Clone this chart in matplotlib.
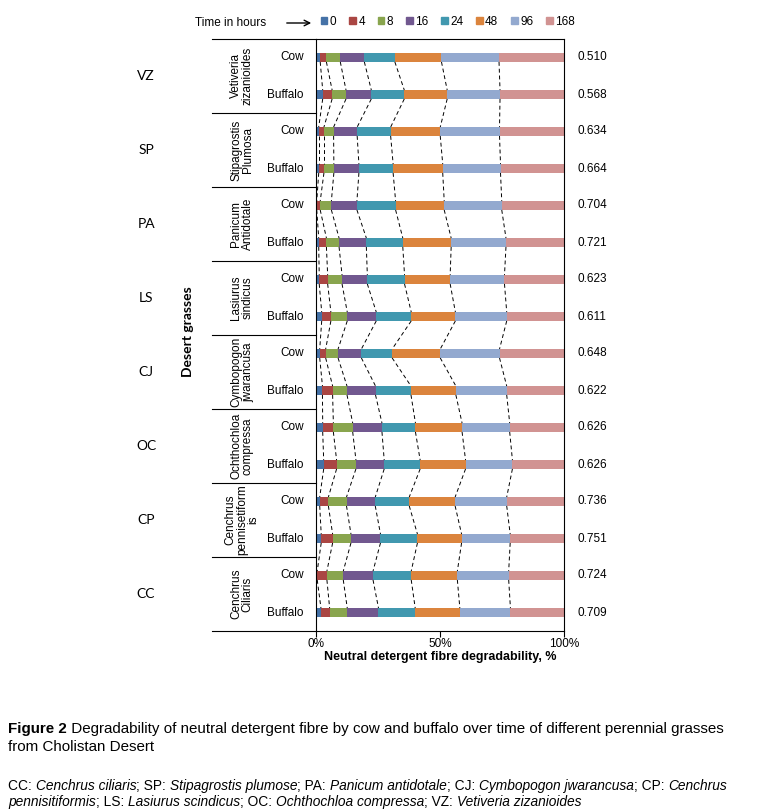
import numpy as np
import matplotlib
matplotlib.use("Agg")
import matplotlib.pyplot as plt
from matplotlib import font_manager
from matplotlib.patches import Patch

installed = {f.name for f in font_manager.fontManager.ttflist}
plt.rcParams['font.family'] = ['Liberation Sans', 'DejaVu Sans']
label_font = 'Lato' if 'Lato' in installed else 'Liberation Sans'
if 'Liberation Sans Narrow' in installed:
    cap_font, cap_size, note_size = 'Liberation Sans Narrow', 12.7, 11.4
else:
    cap_font, cap_size, note_size = 'Liberation Sans', 10.9, 9.9

# data (share of each time point in the bar, %)
hours = ["0", "4", "8", "16", "24", "48", "96", "168"]
codes = ["VZ", "SP", "PA", "LS", "CJ", "OC", "CP", "CC"]
species = ["Vetiveria\nzizanioides", "Stipagrostis\nPlumosa", "Panicum\nAntidotale",
           "Lasiurus\nsindicus", "Cymbopogon\njwarancusa", "Ochthochloa\ncompressa",
           "Cenchrus\npennisetiform\nis", "Cenchrus\nCiliaris"]
animals = ["Cow", "Buffalo"]
h0 = [1.7, 2.7, 1.1, 1.1, 0.3, 1.1, 1.3, 2.3, 1.5, 2.6, 2.7, 3.1, 1.5, 2.1, 0.5, 2.0]
h4 = [2.5, 3.8, 2.1, 2.1, 1.4, 3.1, 3.4, 3.7, 2.4, 4.1, 4.3, 5.2, 3.5, 4.6, 3.9, 3.5]
h8 = [5.6, 5.6, 3.9, 4.0, 4.5, 5.1, 5.8, 6.6, 5.0, 5.8, 7.8, 7.8, 7.3, 7.4, 6.6, 7.1]
h16 = [9.7, 10.2, 9.5, 10.1, 10.3, 11.0, 10.2, 11.7, 9.4, 11.5, 11.8, 11.4, 11.6, 11.9, 12.0, 12.6]
h24 = [12.3, 13.3, 13.5, 13.8, 15.6, 14.7, 15.0, 14.1, 12.4, 14.3, 13.5, 14.5, 13.7, 14.9, 15.4, 14.8]
h48 = [18.8, 17.3, 20.0, 20.0, 19.6, 19.5, 18.4, 17.8, 19.4, 18.1, 18.8, 18.3, 18.5, 17.8, 18.6, 18.0]
h96 = [23.2, 21.3, 23.9, 23.3, 23.2, 22.1, 21.9, 20.7, 23.9, 20.5, 19.2, 18.9, 20.8, 19.6, 20.7, 20.4]
h168 = [26.2, 25.8, 26.0, 25.6, 25.1, 23.4, 24.0, 23.1, 26.0, 23.1, 21.9, 20.8, 23.1, 21.7, 22.3, 21.6]
right_values = ["0.510", "0.568", "0.634", "0.664", "0.704", "0.721", "0.623", "0.611",
                "0.648", "0.622", "0.626", "0.626", "0.736", "0.751", "0.724", "0.709"]

colors = ["#4572A7", "#AA4643", "#89A54E", "#71588F", "#4198AF", "#DB843D", "#93A9CF", "#D19392"]
series = np.array([h0, h4, h8, h16, h24, h48, h96, h168])

fig = plt.figure(figsize=(7.74, 8.11), dpi=100)
ax = fig.add_axes([316 / 774, 1 - 631 / 811, 248 / 774, 592 / 811])

n = series.shape[1]
y = np.arange(n)
bh = 0.24
left = np.zeros(n)
for k in range(len(hours)):
    ax.barh(y, series[k], left=left, height=bh, color=colors[k], linewidth=0, label=hours[k])
    left = left + series[k]

# series lines between consecutive bars
cum = np.cumsum(series, axis=0)
for k in range(len(hours) - 1):
    for i in range(n - 1):
        ax.plot([cum[k, i], cum[k, i + 1]], [y[i] + bh / 2, y[i + 1] - bh / 2],
                color="black", lw=0.7, dashes=(4, 3))

ax.set_xlim(0, 100)
ax.set_ylim(n - 0.5, -0.5)
ax.set_xticks([0, 50, 100])
ax.set_xticklabels(["0%", "50%", "100%"])
ax.set_yticks([])
ax.tick_params(axis='x', length=4, width=0.8, pad=1, labelsize=8.5)
for s in ax.spines.values():
    s.set_linewidth(0.8)
ax.set_xlabel("Neutral detergent fibre degradability, %", fontsize=9, fontweight='bold', labelpad=1)

tr = ax.get_yaxis_transform()
for i in range(n):
    ax.text(-0.05, y[i], animals[i % 2], transform=tr, ha='right', va='center', fontsize=8.5)
    ax.text(1.056, y[i], right_values[i], transform=tr, ha='left', va='center', fontsize=8.5)

for g in range(len(codes)):
    yc = 2 * g + 0.5
    ax.text(-0.298, yc, species[g], transform=tr, rotation=90, ha='center', va='center',
            multialignment='center', fontsize=8.5, linespacing=0.95)
    ax.text(-0.685, yc, codes[g], transform=tr, ha='center', va='center', fontsize=10,
            family=label_font)
for g in range(len(codes) + 1):
    ax.plot([-0.419, 0], [2 * g - 0.5, 2 * g - 0.5], transform=tr, color="black", lw=0.8,
            clip_on=False)

fig.text(188 / 774, 1 - 332 / 811, "Desert grasses", rotation=90, ha='center', va='center',
         fontsize=10, fontweight='bold', family=label_font)

# legend
handles = [Patch(color=c) for c in colors]
fig.legend(handles, hours, ncol=8, loc='center left', bbox_to_anchor=(321 / 774, 1 - 22 / 811),
           frameon=False, handlelength=0.55, handleheight=0.55, handletextpad=0.2,
           columnspacing=1.1, borderpad=0, borderaxespad=0, fontsize=8.5)
fig.text(195 / 774, 1 - 23 / 811, "Time in hours", ha='left', va='center', fontsize=8.5)
ax.annotate("", xy=(314 / 774, 1 - 23 / 811), xytext=(284 / 774, 1 - 23 / 811),
            xycoords='figure fraction', textcoords='figure fraction',
            arrowprops=dict(arrowstyle='->', lw=1.0, color='black'))

# caption with mixed styles
renderer = fig.canvas.get_renderer()


def rich_line(x, yy, parts, size):
    xp = x
    for txt, style, weight in parts:
        t = fig.text(xp, yy, txt, ha='left', va='center', fontsize=size, family=cap_font,
                     style=style, weight=weight)
        bb = t.get_window_extent(renderer)
        xp = xp + bb.width / fig.bbox.width


N, I, B = 'normal', 'italic', 'bold'
rich_line(8 / 774, 1 - 729 / 811, [("Figure 2", N, B),
          (" Degradability of neutral detergent fibre by cow and buffalo over time of different perennial grasses", N, N)],
          cap_size)
rich_line(8 / 774, 1 - 747 / 811, [("from Cholistan Desert", N, N)], cap_size)
rich_line(8 / 774, 1 - 786 / 811, [("CC: ", N, N), ("Cenchrus ciliaris", I, N), ("; SP: ", N, N),
          ("Stipagrostis plumose", I, N), ("; PA: ", N, N), ("Panicum antidotale", I, N),
          ("; CJ: ", N, N), ("Cymbopogon jwarancusa", I, N), ("; CP: ", N, N), ("Cenchrus", I, N)],
          note_size)
rich_line(8 / 774, 1 - 802 / 811, [("pennisitiformis", I, N), ("; LS: ", N, N), ("Lasiurus scindicus", I, N),
          ("; OC: ", N, N), ("Ochthochloa compressa", I, N), ("; VZ: ", N, N),
          ("Vetiveria zizanioides", I, N)], note_size)

fig.savefig("out.png", dpi=100)
